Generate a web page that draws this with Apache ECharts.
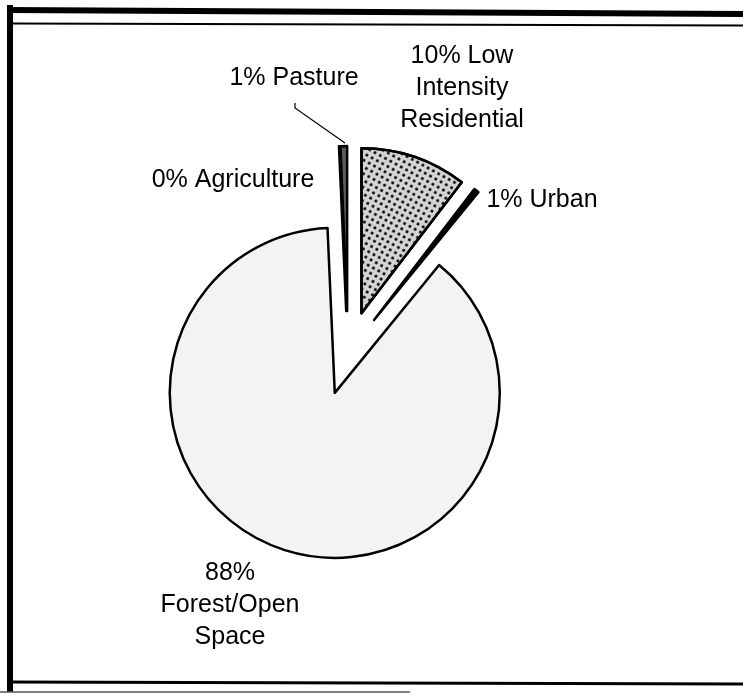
<!DOCTYPE html>
<html>
<head>
<meta charset="utf-8">
<script src="https://cdn.jsdelivr.net/npm/echarts@6/dist/echarts.min.js"></script>
<style>
html,body{margin:0;padding:0;background:#fff;}
#chart{width:743px;height:696px;}
</style>
</head>
<body>
<div id="chart"></div>
<script>
// ---- data ----
const categories = ['Low Intensity Residential', 'Urban', 'Forest/Open Space', 'Agriculture', 'Pasture'];
const values = [10.4, 0.5, 88.4, 0.05, 0.65];
const pctLabels = ['10%', '1%', '88%', '0%', '1%'];
const labelTexts = ['10% Low\nIntensity\nResidential', '1% Urban', '88%\nForest/Open\nSpace', '0% Agriculture', '1% Pasture'];

// ---- styles (kept apart from data) ----
const sliceStyles = [
  { color: '#d4d4d4', decal: { symbol: 'circle', symbolSize: 1, color: '#000', dashArrayX: 3, dashArrayY: 2.6, rotation: 0.5 } },
  { color: '#000000' },
  { color: '#f3f3f3' },
  { color: '#888888' },
  { color: '#5a5a5a' }
];
const labelPos = [
  { x: 462, y: 88 },
  { x: 542, y: 200 },
  { x: 230, y: 605 },
  { x: 233, y: 180 },
  { x: 294, y: 78 }
];
const pastureLeader = [[295, 103], [295, 108], [345, 143]];

const chart = echarts.init(document.getElementById('chart'), null, { renderer: 'canvas' });

const data = categories.map((name, i) => {
  const st = Object.assign({ borderColor: '#000', borderWidth: 2.5 }, sliceStyles[i]);
  return {
    name: name,
    value: values[i],
    selected: true,
    itemStyle: st,
    select: { itemStyle: st }
  };
});

const labelGraphics = labelTexts.map((t, i) => ({
  type: 'text',
  style: {
    text: t,
    x: labelPos[i].x,
    y: labelPos[i].y,
    align: 'center',
    verticalAlign: 'middle',
    font: '25px "Liberation Sans", Arial, sans-serif',
    lineHeight: 32,
    fill: '#000'
  }
}));

chart.setOption({
  animation: false,
  backgroundColor: '#ffffff',
  graphic: [
    { type: 'rect', shape: { x: 7, y: 5, width: 6, height: 687 }, style: { fill: '#000' } },
    { type: 'polygon', shape: { points: [[7, 7], [743, 11], [743, 17], [7, 13]] }, style: { fill: '#000' } },
    { type: 'line', shape: { x1: 13, y1: 23.5, x2: 743, y2: 25.5 }, style: { stroke: '#000', lineWidth: 2 } },
    { type: 'line', shape: { x1: 7, y1: 682, x2: 743, y2: 684 }, style: { stroke: '#000', lineWidth: 3 } },
    { type: 'line', shape: { x1: 0, y1: 692, x2: 410, y2: 692 }, style: { stroke: '#555', lineWidth: 1.5 } },
    { type: 'polyline', shape: { points: pastureLeader }, style: { stroke: '#000', lineWidth: 1.2, fill: null } }
  ].concat(labelGraphics),
  series: [{
    type: 'pie',
    center: [348, 353],
    radius: [0, 165],
    startAngle: 90,
    clockwise: true,
    selectedMode: 'multiple',
    selectedOffset: 42,
    avoidLabelOverlap: false,
    emphasis: { disabled: true },
    label: { show: false },
    labelLine: { show: false },
    data: data
  }]
});
</script>
</body>
</html>
